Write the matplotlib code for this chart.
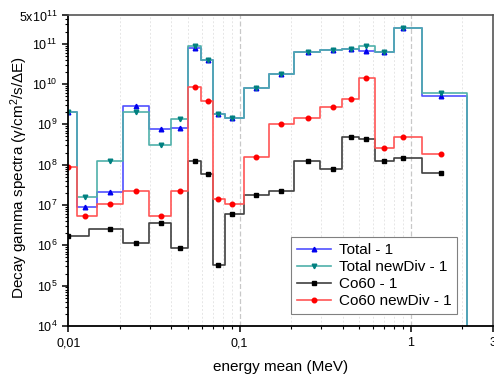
import matplotlib
matplotlib.use("Agg")
import matplotlib.pyplot as plt
from matplotlib.lines import Line2D
from matplotlib.ticker import FixedLocator, NullFormatter, LogLocator
import numpy as np

plt.rcParams['font.family'] = ['Liberation Sans', 'DejaVu Sans']
plt.rcParams['mathtext.fontset'] = 'custom'
plt.rcParams['mathtext.rm'] = 'Liberation Sans'
plt.rcParams['mathtext.it'] = 'Liberation Sans:italic'

# energy points (MeV)
e_total = [0.01, 0.0125, 0.0175, 0.025, 0.035, 0.045, 0.055, 0.065, 0.075, 0.09,
           0.125, 0.175, 0.25, 0.35, 0.45, 0.55, 0.7, 0.9, 1.5, 3.0]
e_co60 = [0.01, 0.0125, 0.0175, 0.025, 0.035, 0.045, 0.055, 0.065, 0.075, 0.09,
          0.125, 0.175, 0.25, 0.35, 0.45, 0.55, 0.7, 0.9, 1.5]
e_co60_old = [0.01, 0.0175, 0.025, 0.035, 0.045, 0.055, 0.065, 0.075, 0.09,
              0.125, 0.175, 0.25, 0.35, 0.45, 0.55, 0.7, 0.9, 1.5]

total = [2.0e9, 9.0e6, 2.05e7, 2.8e9, 7.5e8, 7.9e8, 7.8e10, 3.9e10, 1.8e9, 1.41e9,
         7.8e9, 1.77e10, 6.3e10, 6.85e10, 7.3e10, 6.7e10, 6.3e10, 2.4e11, 5.1e9, 1.0]
total_new = [2.0e9, 1.6e7, 1.25e8, 2.05e9, 3.06e8, 1.33e9, 8.9e10, 3.9e10, 1.8e9, 1.41e9,
             7.8e9, 1.77e10, 6.3e10, 6.85e10, 7.3e10, 8.8e10, 6.3e10, 2.4e11, 5.9e9, 1.0]
co60 = [1.72e6, 2.5e6, 1.13e6, 3.5e6, 8.5e5, 1.23e8, 5.9e7, 3.2e5, 5.9e6,
        1.76e7, 2.2e7, 1.25e8, 7.6e7, 4.9e8, 4.3e8, 1.25e8, 1.46e8, 6.1e7]
co60_new = [8.9e7, 5.4e6, 1.03e7, 2.2e7, 5.4e6, 2.25e7, 8.3e9, 3.8e9, 1.38e7, 1.03e7,
            1.55e8, 1.03e9, 1.41e9, 2.73e9, 4.3e9, 1.43e10, 2.6e8, 4.9e8, 1.83e8]


def log_mid_step(x, y):
    # step centred on each point, with the jumps at the geometric midpoints
    x = np.asarray(x, float)
    y = np.asarray(y, float)
    edges = np.sqrt(x[:-1] * x[1:])
    xs = np.concatenate([[x[0]], np.repeat(edges, 2), [x[-1]]])
    ys = np.repeat(y, 2)
    return xs, ys


series = [
    (e_total, total, 'Total - 1', '#5050ff', '#0000ee', '^'),
    (e_total, total_new, 'Total newDiv - 1', '#4fb0aa', '#008080', 'v'),
    (e_co60_old, co60, 'Co60 - 1', '#404040', '#000000', 's'),
    (e_co60, co60_new, 'Co60 newDiv - 1', '#ff5555', '#ff0000', 'o'),
]

fig = plt.figure(figsize=(4.94, 3.81), dpi=100)
ax = fig.add_axes([0.1383, 0.1444, 0.8587, 0.815])

handles = []
for x, y, label, lc, mc, m in series:
    xs, ys = log_mid_step(x, y)
    ax.plot(xs, ys, color=lc, lw=1.2)
    ax.plot(x, y, ls='none', marker=m, ms=3.3, color=mc, mec=mc)
    handles.append(Line2D([], [], color=lc, lw=1.2, marker=m, ms=3.3,
                          mfc=mc, mec=mc, label=label))

ax.set_xscale('log')
ax.set_yscale('log')
ax.set_xlim(0.01, 3)
ax.set_ylim(1e4, 5e11)

ax.xaxis.set_major_locator(FixedLocator([0.01, 0.1, 1, 3]))
ax.set_xticklabels(['0,01', '0,1', '1', '3'])
ax.xaxis.set_minor_locator(FixedLocator([0.02, 0.03, 0.04, 0.05, 0.06, 0.07, 0.08, 0.09,
                                         0.2, 0.3, 0.4, 0.5, 0.6, 0.7, 0.8, 0.9, 2]))
ax.xaxis.set_minor_formatter(NullFormatter())

yt = [1e4, 1e5, 1e6, 1e7, 1e8, 1e9, 1e10, 1e11, 5e11]
ax.yaxis.set_major_locator(FixedLocator(yt))
ax.set_yticklabels(['$10^{%d}$' % k for k in range(4, 12)] + [r'$5\mathrm{x}10^{11}$'])
ax.yaxis.set_minor_locator(LogLocator(base=10, subs=np.arange(2, 10), numticks=20))
ax.yaxis.set_minor_formatter(NullFormatter())

ax.tick_params(which='both', direction='out', top=False, right=False, labelsize=9)
ax.tick_params(which='major', length=4.5, width=1.1)
ax.tick_params(which='minor', length=2.5, width=0.8)

# vertical guide lines
for xv in [0.1, 1]:
    ax.axvline(xv, color='#c8c8c8', lw=0.9, ls=(0, (4, 2)), zorder=0)
for xv in ax.xaxis.get_minor_locator().tick_values(0.01, 3):
    ax.axvline(xv, color='#e6e6e6', lw=0.7, ls=(0, (2, 2)), zorder=0)

for side in ['left', 'bottom']:
    ax.spines[side].set_linewidth(1.3)
    ax.spines[side].set_color('black')
for side in ['top', 'right']:
    ax.spines[side].set_linewidth(1.2)
    ax.spines[side].set_color('#555555')

ax.set_xlabel('energy mean (MeV)', fontsize=11)
ax.set_ylabel('Decay gamma spectra (γ/cm$^2$/s/ΔE)', fontsize=11)
ax.xaxis.set_label_coords(0.5, -0.11)
ax.yaxis.set_label_coords(-0.09, 0.478)

leg = ax.legend(handles=handles, loc='lower right', bbox_to_anchor=(0.926, 0.175),
                bbox_transform=fig.transFigure, borderaxespad=0, fontsize=11,
                fancybox=False, framealpha=1, edgecolor='#808080',
                handlelength=2.2, labelspacing=0.2, borderpad=0.4, handletextpad=0.5)
leg.get_frame().set_linewidth(0.8)

fig.savefig('out.png', dpi=100)
